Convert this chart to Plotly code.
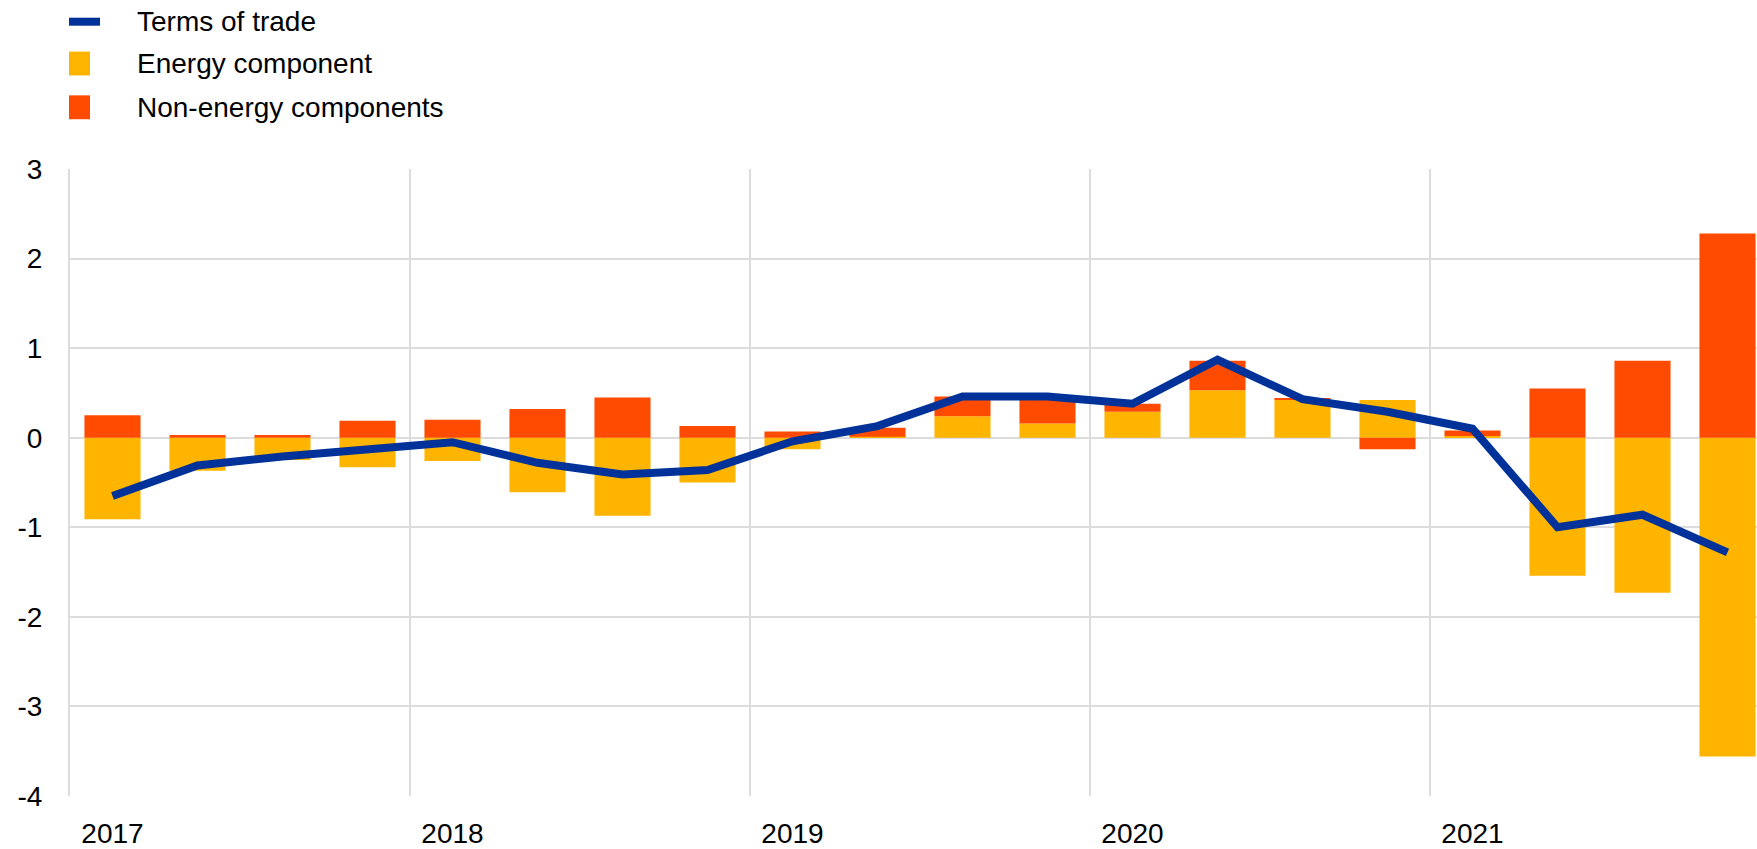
import plotly.graph_objects as go

# ---- data (quarterly, 2017 Q1 - 2021 Q4) ----
quarters = [
    "2017 Q1", "2017 Q2", "2017 Q3", "2017 Q4",
    "2018 Q1", "2018 Q2", "2018 Q3", "2018 Q4",
    "2019 Q1", "2019 Q2", "2019 Q3", "2019 Q4",
    "2020 Q1", "2020 Q2", "2020 Q3", "2020 Q4",
    "2021 Q1", "2021 Q2", "2021 Q3", "2021 Q4",
]
energy = [-0.91, -0.37, -0.25, -0.33, -0.26, -0.61, -0.87, -0.50,
          -0.13, 0.01, 0.24, 0.16, 0.29, 0.53, 0.43, 0.42,
          0.02, -1.54, -1.73, -3.56]
non_energy = [0.25, 0.03, 0.03, 0.19, 0.20, 0.32, 0.45, 0.13,
              0.07, 0.10, 0.22, 0.29, 0.09, 0.33, 0.01, -0.13,
              0.06, 0.55, 0.86, 2.28]
terms_of_trade = [-0.65, -0.31, -0.21, -0.12, -0.05, -0.28, -0.41, -0.36,
                  -0.04, 0.13, 0.46, 0.46, 0.38, 0.87, 0.43, 0.29,
                  0.10, -1.00, -0.86, -1.28]
year_ticks = ["2017 Q1", "2018 Q1", "2019 Q1", "2020 Q1", "2021 Q1"]
year_labels = ["2017", "2018", "2019", "2020", "2021"]
y_ticks = [-4, -3, -2, -1, 0, 1, 2, 3]
y_labels = ["-4", "-3", "-2", "-1", "0", "1", "2", "3"]

series_names = ["Terms of trade", "Energy component", "Non-energy components"]
c_line = "#003299"
c_energy = "#FFB400"
c_non = "#FF4B00"

W, H = 1757, 849
ML, MR, MT, MB = 70, 0, 169, 50
FONT = "Liberation Sans, Arial, sans-serif"
GRID = "#dcdcdc"

# category positions on a linear axis (index of each quarter)
xpos = list(range(len(quarters)))
tick_pos = [quarters.index(q) for q in year_ticks]
boundary_pos = [p - 0.5 for p in tick_pos]

fig = go.Figure()
fig.add_trace(go.Bar(x=xpos, y=energy, name=series_names[1], customdata=quarters,
                     marker=dict(color=c_energy, line=dict(width=0)),
                     showlegend=False))
fig.add_trace(go.Bar(x=xpos, y=non_energy, name=series_names[2], customdata=quarters,
                     marker=dict(color=c_non, line=dict(width=0)),
                     showlegend=False))
fig.add_trace(go.Scatter(x=xpos, y=terms_of_trade, name=series_names[0], customdata=quarters,
                         mode="lines", line=dict(color=c_line, width=8),
                         showlegend=False))

pw = W - ML - MR
ph = H - MT - MB


def px_x(x):
    return (x - ML) / pw


def px_y(y):
    return (H - MB - y) / ph


# manual legend (top-left)
shapes = []
annotations = []
legend_rows = [
    ("line", c_line, 21, series_names[0]),
    ("box", c_energy, 63, series_names[1]),
    ("box", c_non, 107, series_names[2]),
]
for kind, col, yc, label in legend_rows:
    if kind == "line":
        shapes.append(dict(type="line", xref="paper", yref="paper",
                           x0=px_x(69), x1=px_x(100), y0=px_y(yc), y1=px_y(yc),
                           line=dict(color=col, width=8)))
    else:
        shapes.append(dict(type="rect", xref="paper", yref="paper",
                           x0=px_x(69), x1=px_x(90), y0=px_y(yc - 12), y1=px_y(yc + 12),
                           fillcolor=col, line=dict(width=0)))
    annotations.append(dict(text=label, xref="paper", yref="paper",
                            x=px_x(135), y=px_y(yc), xanchor="left", yanchor="middle",
                            showarrow=False, font=dict(family=FONT, size=28, color="#000000")))

fig.update_layout(
    width=W, height=H,
    margin=dict(l=ML, r=MR, t=MT, b=MB, pad=0),
    paper_bgcolor="white", plot_bgcolor="white",
    barmode="relative", bargap=0.34,
    font=dict(family=FONT, size=28, color="#000000"),
    shapes=shapes, annotations=annotations,
    showlegend=False,
    xaxis=dict(
        type="linear",
        range=[-0.5, -0.5 + pw / 85.0],
        tickmode="array", tickvals=tick_pos, ticktext=year_labels,
        ticks="", showgrid=False,
        minor=dict(tickmode="array", tickvals=boundary_pos, showgrid=True,
                   gridcolor=GRID, gridwidth=2, ticks=""),
        showline=False, zeroline=False, ticklabelstandoff=18,
        tickfont=dict(family=FONT, size=28, color="#000000"),
    ),
    yaxis=dict(
        range=[-4, 3], tickmode="array", tickvals=y_ticks, ticktext=y_labels,
        showgrid=True, gridcolor=GRID, gridwidth=2,
        zeroline=True, zerolinecolor=GRID, zerolinewidth=2,
        showline=True, linecolor=GRID, linewidth=2,
        ticks="", ticklabelstandoff=20,
        tickfont=dict(family=FONT, size=28, color="#000000"),
    ),
)

fig.write_html("out.html", config={"displayModeBar": False},
               post_script="document.body.style.margin='0';document.body.style.overflow='hidden';")
